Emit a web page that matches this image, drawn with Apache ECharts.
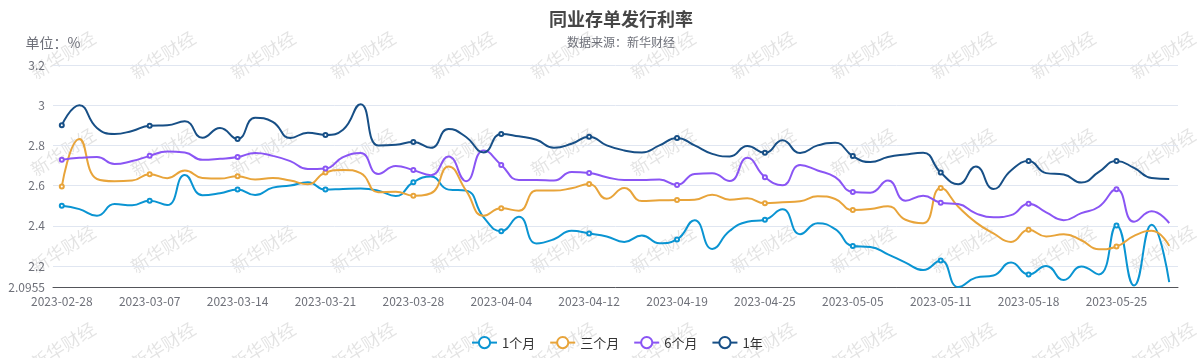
<!DOCTYPE html>
<html>
<head>
<meta charset="utf-8">
<script src="https://cdn.jsdelivr.net/npm/echarts@6/dist/echarts.min.js"></script>
<style>
html,body{margin:0;padding:0;background:#fff;}
#chart{width:1203px;height:358px;}
</style>
</head>
<body>
<div id="chart"></div>
<script>
// ---- data ----
var dates = [
'2023-02-28','2023-03-01','2023-03-02','2023-03-03','2023-03-06','2023-03-07','2023-03-08','2023-03-09','2023-03-10','2023-03-13',
'2023-03-14','2023-03-15','2023-03-16','2023-03-17','2023-03-20','2023-03-21','2023-03-22','2023-03-23','2023-03-24','2023-03-27',
'2023-03-28','2023-03-29','2023-03-30','2023-03-31','2023-04-03','2023-04-04','2023-04-06','2023-04-07','2023-04-10','2023-04-11',
'2023-04-12','2023-04-13','2023-04-14','2023-04-17','2023-04-18','2023-04-19','2023-04-20','2023-04-21','2023-04-23','2023-04-24',
'2023-04-25','2023-04-26','2023-04-27','2023-04-28','2023-05-04','2023-05-05','2023-05-06','2023-05-08','2023-05-09','2023-05-10',
'2023-05-11','2023-05-12','2023-05-15','2023-05-16','2023-05-17','2023-05-18','2023-05-19','2023-05-22','2023-05-23','2023-05-24',
'2023-05-25','2023-05-26','2023-05-29','2023-05-30'
];
var rate1M = [
2.50,2.483,2.45,2.508,2.502,2.525,2.503,2.653,2.552,2.562,
2.58,2.553,2.59,2.60,2.617,2.58,2.583,2.585,2.575,2.548,
2.617,2.645,2.58,2.575,2.442,2.373,2.445,2.312,2.333,2.375,
2.362,2.347,2.32,2.352,2.313,2.332,2.428,2.285,2.375,2.42,
2.43,2.482,2.358,2.413,2.383,2.30,2.295,2.258,2.217,2.18,
2.227,2.0955,2.142,2.153,2.217,2.158,2.20,2.13,2.197,2.158,
2.402,2.103,2.405,2.12
];
var rate3M = [
2.595,2.832,2.633,2.622,2.625,2.657,2.637,2.675,2.638,2.635,
2.647,2.63,2.638,2.625,2.607,2.665,2.678,2.662,2.567,2.57,
2.55,2.562,2.695,2.575,2.45,2.487,2.475,2.575,2.575,2.587,
2.608,2.535,2.588,2.523,2.527,2.528,2.53,2.555,2.53,2.537,
2.512,2.517,2.522,2.547,2.533,2.478,2.483,2.497,2.43,2.413,
2.588,2.495,2.417,2.362,2.32,2.38,2.347,2.358,2.328,2.283,
2.297,2.35,2.375,2.30
];
var rate6M = [
2.728,2.738,2.742,2.707,2.722,2.748,2.77,2.765,2.728,2.733,
2.742,2.762,2.748,2.722,2.682,2.685,2.742,2.762,2.658,2.698,
2.677,2.652,2.745,2.622,2.775,2.703,2.628,2.628,2.625,2.668,
2.663,2.642,2.628,2.628,2.63,2.603,2.658,2.662,2.623,2.738,
2.642,2.602,2.702,2.675,2.642,2.568,2.565,2.625,2.525,2.55,
2.515,2.508,2.462,2.442,2.453,2.51,2.467,2.428,2.463,2.495,
2.582,2.42,2.472,2.413
];
var rate1Y = [
2.90,3.00,2.887,2.857,2.872,2.898,2.90,2.92,2.838,2.887,
2.832,2.938,2.917,2.837,2.863,2.852,2.878,3.005,2.80,2.803,
2.817,2.788,2.882,2.842,2.765,2.857,2.845,2.828,2.788,2.808,
2.843,2.80,2.775,2.765,2.80,2.837,2.80,2.758,2.745,2.797,
2.763,2.825,2.762,2.80,2.813,2.747,2.717,2.742,2.755,2.763,
2.665,2.607,2.695,2.583,2.675,2.722,2.662,2.655,2.615,2.668,
2.722,2.688,2.638,2.633
];
var seriesNames = ['1个月','三个月','6个月','1年'];
var seriesColors = ['#0a94d2','#e8a43a','#8a55f4','#174f86'];

// ---- watermark tile ----
var tile = document.createElement('canvas');
tile.width = 100; tile.height = 97;
var tc = tile.getContext('2d');
tc.translate(63, 55);
tc.rotate(-32 * Math.PI / 180);
tc.font = '18px "Microsoft YaHei","Noto Sans CJK SC",sans-serif';
tc.fillStyle = 'rgba(0,0,0,0.11)';
tc.textAlign = 'center';
tc.textBaseline = 'middle';
tc.fillText('新华财经', 0, 0);

var FONT = '"Microsoft YaHei","Noto Sans CJK SC",sans-serif';
var allData = [rate1M, rate3M, rate6M, rate1Y];

var chart = echarts.init(document.getElementById('chart'), null, {renderer: 'canvas'});
chart.setOption({
  animation: false,
  backgroundColor: {image: tile, repeat: 'repeat'},
  textStyle: {fontFamily: FONT},
  title: {
    text: '同业存单发行利率',
    subtext: '数据来源：新华财经',
    left: 616,
    textAlign: 'center',
    top: 5,
    itemGap: 8,
    textStyle: {fontSize: 18, fontWeight: 'bold', color: '#464646', fontFamily: FONT},
    subtextStyle: {fontSize: 12, color: '#6E7079', fontFamily: FONT}
  },
  legend: {
    data: seriesNames,
    left: 466,
    top: 331,
    itemGap: 14,
    textStyle: {fontSize: 13, color: '#333', fontFamily: FONT}
  },
  grid: {left: 53, right: 25, top: 65, bottom: 71},
  xAxis: {
    type: 'category',
    data: dates,
    boundaryGap: true,
    axisLabel: {interval: 4, fontSize: 12, color: '#6E7079'},
    axisTick: {interval: 4}
  },
  yAxis: {
    type: 'value',
    name: '单位：%',
    nameTextStyle: {fontSize: 14, color: '#6E7079'},
    min: 'dataMin',
    max: 3.2,
    axisLabel: {fontSize: 12, color: '#6E7079'},
    splitLine: {lineStyle: {color: '#E0E6F1'}}
  },
  series: seriesNames.map(function (n, k) {
    return {
      name: n,
      type: 'line',
      smooth: true,
      data: allData[k],
      showAllSymbol: false,
      symbol: 'emptyCircle',
      symbolSize: 4,
      color: seriesColors[k],
      lineStyle: {width: 2}
    };
  })
});
</script>
</body>
</html>
